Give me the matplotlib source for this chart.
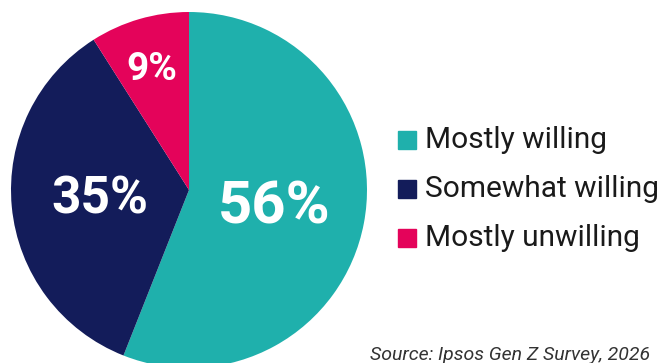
import matplotlib.pyplot as plt
from matplotlib.patches import Rectangle

labels = ['Mostly willing', 'Somewhat willing', 'Mostly unwilling']
shares = [56, 35, 9]
colors = ['#1fb0ac', '#131c5a', '#e4035a']
source = 'Source: Ipsos Gen Z Survey, 2026'

plt.rcParams['font.family'] = ['Roboto', 'DejaVu Sans']

W, H = 667, 363
fig = plt.figure(figsize=(W / 100, H / 100), dpi=100)

# pie axes: circle centre (189, 190) px, radius 178 px
cx, cy, r = 189, 190, 178
ax = fig.add_axes([(cx - r) / W, (H - cy - r) / H, 2 * r / W, 2 * r / H])
wedges, _ = ax.pie(shares, colors=colors, startangle=90, counterclock=False,
                   radius=1, wedgeprops=dict(linewidth=0))
ax.set_xlim(-1, 1)
ax.set_ylim(-1, 1)
ax.set_aspect('equal')
ax.axis('off')

# percentage labels inside the slices
label_pos = [(274, 207, 43), (100, 200, 37), (152, 70, 28)]
for val, (px, py, fs) in zip(shares, label_pos):
    fig.text(px / W, 1 - py / H, f'{val}%', color='white', fontsize=fs,
             fontweight='bold', ha='center', va='center')

# legend drawn by hand
for i, (lab, col) in enumerate(zip(labels, colors)):
    yc = 140 + 49 * i
    fig.patches.append(Rectangle((398 / W, 1 - (yc + 9) / H), 18 / W, 18 / H,
                                 transform=fig.transFigure, color=col))
    fig.text(425 / W, 1 - yc / H, lab, fontsize=21.5, color='#1a1a1a',
             ha='left', va='center')

fig.text(370 / W, 3 / H, source, fontsize=14, style='italic',
         color='#333333', ha='left', va='baseline')

fig.savefig('out.png', dpi=100)
